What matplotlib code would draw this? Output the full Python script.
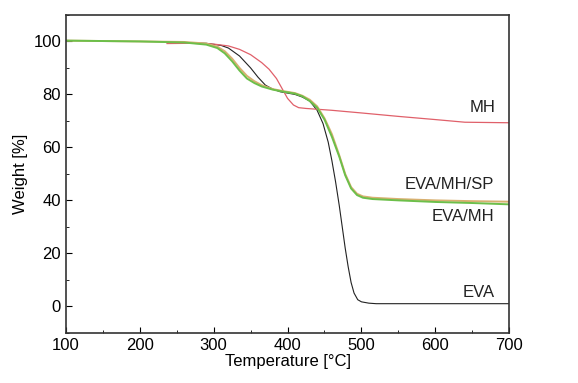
import matplotlib.pyplot as plt
from matplotlib.ticker import MultipleLocator

plt.rcParams["font.family"] = ["Liberation Sans", "DejaVu Sans"]

# EVA (black)
eva_t = [237, 260, 290, 310, 320, 335, 350, 360, 370, 380, 390, 400, 410, 420, 430,
         440, 448, 455, 460, 465, 470, 474, 478, 482, 486, 490, 495, 500, 510, 520, 600, 700]
eva_w = [99.5, 99.6, 99.3, 98.5, 97.5, 94.5, 90, 86.5, 83.5, 82, 81, 80.5, 80, 79, 77.5,
         74, 69, 62, 55, 47, 38, 30, 22, 15, 9, 5, 2.5, 1.7, 1.2, 1.0, 1.0, 1.0]

# MH (red)
mh_t = [237, 270, 300, 320, 335, 350, 365, 375, 385, 392, 400, 408, 415, 425, 440,
        460, 500, 550, 600, 640, 700]
mh_w = [99.2, 99.3, 99.0, 98.3, 97, 95, 92, 89.5, 86, 82.5, 78.5, 76, 75, 74.7, 74.4,
        74, 73, 71.7, 70.5, 69.5, 69.3]

# EVA/MH/SP (tan, mostly under green)
sp_t = [100, 200, 260, 290, 305, 315, 325, 335, 345, 355, 365, 380, 395, 410, 420,
        430, 440, 450, 460, 470, 478, 486, 494, 502, 515, 550, 600, 650, 700]
sp_w = [100.3, 100, 99.8, 99.2, 98, 96.3, 93.5, 90, 87, 85, 83.5, 82, 81.2, 80.5, 79.5,
        78, 75.5, 71, 65, 57, 50, 45, 42.5, 41.5, 41, 40.5, 40, 39.7, 39.5]

# EVA/MH (green)
mhv_t = [100, 200, 260, 290, 305, 315, 325, 335, 345, 355, 365, 380, 395, 410, 420,
         430, 440, 450, 460, 470, 478, 486, 494, 502, 515, 550, 600, 650, 700]
mhv_w = [100.3, 100, 99.6, 98.8, 97.5, 95.5, 92.5, 89, 86, 84.3, 83, 81.8, 81, 80.3, 79.3,
         77.5, 75, 70.5, 64, 56.5, 49.5, 44.5, 42, 41, 40.5, 40, 39.4, 39, 38.5]

fig = plt.figure(figsize=(5.78, 3.83), dpi=100)
ax = fig.add_axes([0.114, 0.131, 0.767, 0.830])

ax.plot(eva_t, eva_w, color="#222222", lw=0.8)
ax.plot(mh_t, mh_w, color="#e0606a", lw=0.9)
ax.plot(sp_t, sp_w, color="#d8b070", lw=1.4)
ax.plot(mhv_t, mhv_w, color="#6cbf4a", lw=1.4)

ax.text(681, 75, "MH", ha="right", va="center", fontsize=12, color="#222222")
ax.text(680, 46, "EVA/MH/SP", ha="right", va="center", fontsize=12, color="#222222")
ax.text(680, 34, "EVA/MH", ha="right", va="center", fontsize=12, color="#222222")
ax.text(680, 5.3, "EVA", ha="right", va="center", fontsize=12, color="#222222")

ax.set_xlim(100, 700)
ax.set_ylim(-10, 110)
ax.xaxis.set_major_locator(MultipleLocator(100))
ax.xaxis.set_minor_locator(MultipleLocator(50))
ax.yaxis.set_major_locator(MultipleLocator(20))
ax.yaxis.set_minor_locator(MultipleLocator(10))
ax.tick_params(which="both", direction="in", top=False, right=False, labelsize=12)
ax.tick_params(which="major", length=4)
ax.tick_params(which="minor", length=2.5)
ax.set_xlabel("Temperature [°C]", fontsize=12, labelpad=1)
ax.set_ylabel("Weight [%]", fontsize=12)
for s in ax.spines.values():
    s.set_linewidth(1.2)
    s.set_color("#333333")

plt.savefig("out.png", dpi=100)
